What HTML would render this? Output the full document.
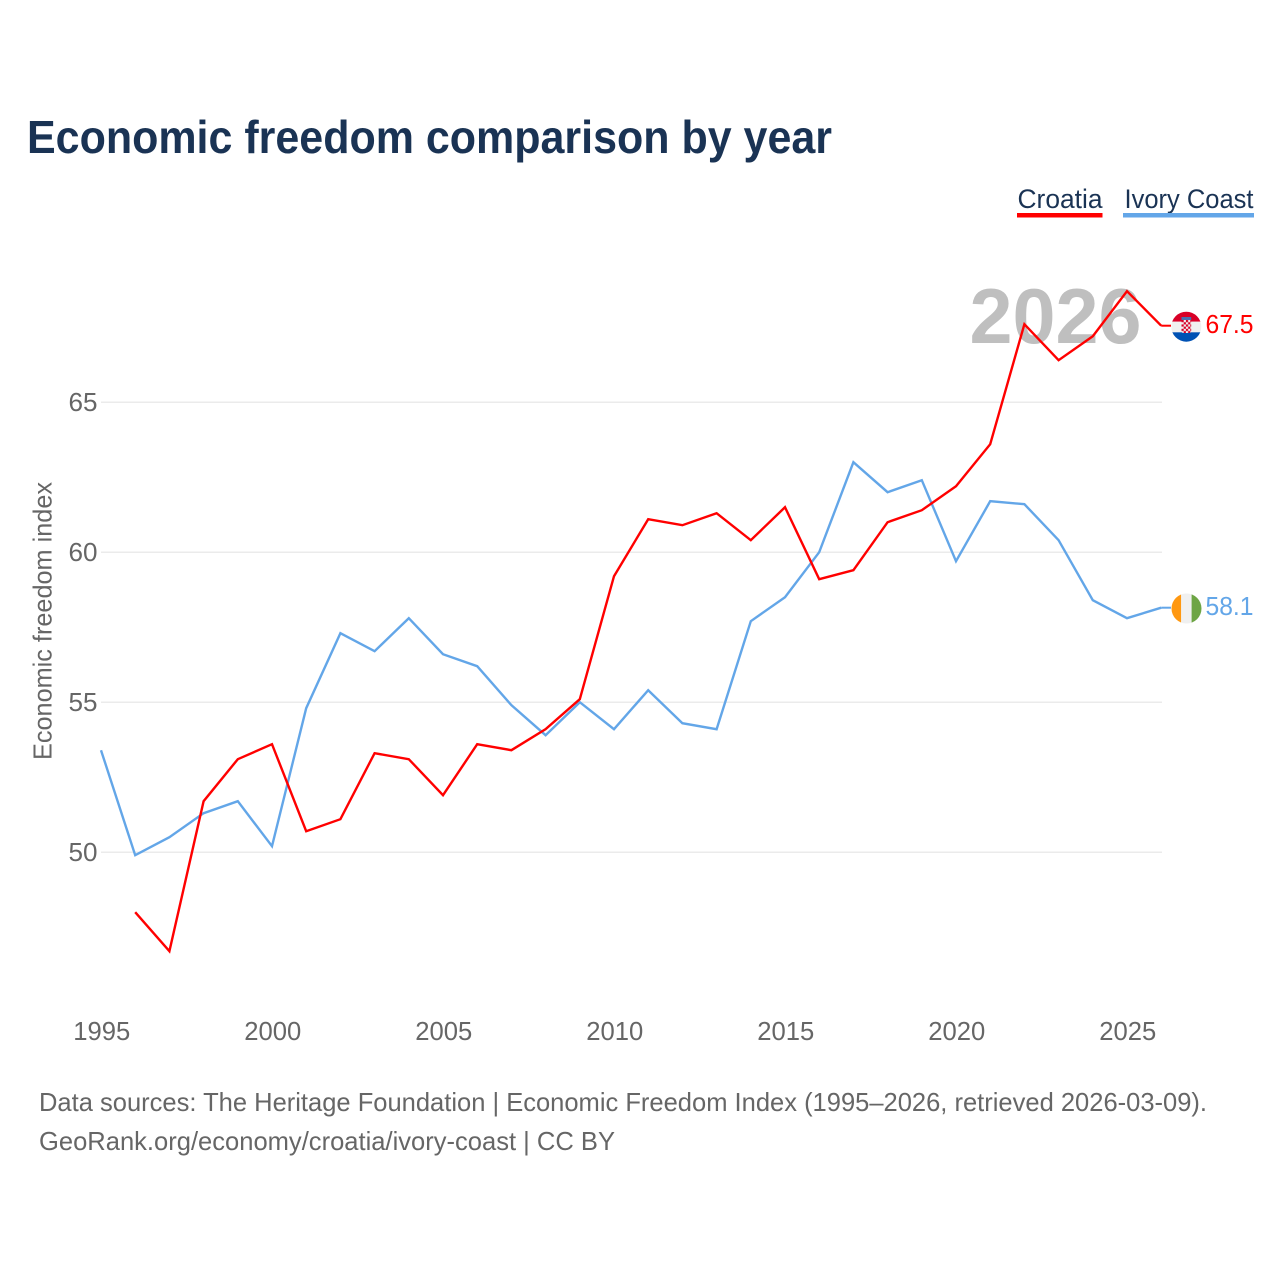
<!DOCTYPE html>
<html lang="en">
<head>
<meta charset="utf-8">
<title>Economic freedom comparison by year</title>
<style>
html,body{margin:0;padding:0;background:#fff;}
svg{display:block;font-family:"Liberation Sans",sans-serif;}
</style>
</head>
<body>
<svg id="chart" xmlns="http://www.w3.org/2000/svg" width="1280" height="1280" viewBox="0 0 1280 1280">
  <defs>
    <clipPath id="flag-clip-hr"><circle cx="1186.3" cy="326.7" r="15"/></clipPath>
    <clipPath id="flag-clip-ci"><circle cx="1186.5" cy="608.5" r="15"/></clipPath>
    <pattern id="hr-checker" x="1181.5" y="320" width="4.4" height="4.4" patternUnits="userSpaceOnUse">
      <rect width="4.4" height="4.4" fill="#f0f0f0"/>
      <rect width="2.2" height="2.2" fill="#d80027"/>
      <rect x="2.2" y="2.2" width="2.2" height="2.2" fill="#d80027"/>
    </pattern>
  </defs>
  <rect x="0" y="0" width="1280" height="1280" fill="#ffffff"/>
  <text x="27" y="153" font-size="46" font-weight="700" fill="#1a3354" textLength="805" lengthAdjust="spacingAndGlyphs">Economic freedom comparison by year</text>

  <g>
    <g>
      <text x="1017.5" y="208" font-size="27" fill="#1a3354" textLength="85" lengthAdjust="spacingAndGlyphs">Croatia</text>
      <rect x="1017" y="213" width="85.5" height="4.5" fill="#ff0000"/>
    </g>
    <g>
      <text x="1124.5" y="208" font-size="27" fill="#1a3354" textLength="129" lengthAdjust="spacingAndGlyphs">Ivory Coast</text>
      <rect x="1123" y="213" width="131" height="4.5" fill="#63a6e8"/>
    </g>
  </g>

  <text x="969.5" y="343" font-size="78" font-weight="700" fill="#bfbfbf" textLength="172" lengthAdjust="spacingAndGlyphs">2026</text>

  <g id="grid"></g>
  <g id="y-ticks"></g>
  <g id="x-ticks"></g>
  <text transform="translate(51.5 760) rotate(-90)" font-size="26" fill="#666666" textLength="278" lengthAdjust="spacingAndGlyphs">Economic freedom index</text>
  <g id="series"></g>

  <g clip-path="url(#flag-clip-hr)">
    <rect x="1171" y="311" width="31" height="10.7" fill="#d80027"/>
    <rect x="1171" y="321.7" width="31" height="10.6" fill="#f0f0f0"/>
    <rect x="1171" y="332.3" width="31" height="10.5" fill="#0052b4"/>
    <rect x="1181.5" y="317" width="9.7" height="3" fill="#4a6fb0"/>
    <rect x="1181.5" y="320" width="9.7" height="13" rx="2" fill="url(#hr-checker)"/>
  </g>
  <g clip-path="url(#flag-clip-ci)">
    <rect x="1171" y="593" width="10.2" height="31" fill="#ff9811"/>
    <rect x="1181.2" y="593" width="10.4" height="31" fill="#f0f0f0"/>
    <rect x="1191.6" y="593" width="11" height="31" fill="#6da544"/>
  </g>
  <g id="end-labels"></g>

  <text x="39" y="1111" font-size="26" fill="#666666" textLength="1168" lengthAdjust="spacingAndGlyphs">Data sources: The Heritage Foundation | Economic Freedom Index (1995–2026, retrieved 2026-03-09).</text>
  <text x="39" y="1150" font-size="26" fill="#666666" textLength="576" lengthAdjust="spacingAndGlyphs">GeoRank.org/economy/croatia/ivory-coast | CC BY</text>
</svg>

<script>
const years = [1995,1996,1997,1998,1999,2000,2001,2002,2003,2004,2005,2006,2007,2008,2009,2010,2011,2012,2013,2014,2015,2016,2017,2018,2019,2020,2021,2022,2023,2024,2025,2026];
const croatiaValues = [null,48.0,46.7,51.7,53.1,53.6,50.7,51.1,53.3,53.1,51.9,53.6,53.4,54.1,55.1,59.2,61.1,60.9,61.3,60.4,61.5,59.1,59.4,61.0,61.4,62.2,63.6,67.6,66.4,67.2,68.7,67.55];
const ivoryCoastValues = [53.4,49.9,50.5,51.3,51.7,50.2,54.8,57.3,56.7,57.8,56.6,56.2,54.9,53.9,55.0,54.1,55.4,54.3,54.1,57.7,58.5,60.0,63.0,62.0,62.4,59.7,61.7,61.6,60.4,58.4,57.8,58.15];
const yTickValues = [50,55,60,65];
const xTickValues = [1995,2000,2005,2010,2015,2020,2025];
const endLabels = ["67.5","58.1"];

const NS = 'http://www.w3.org/2000/svg';
function xScale(year){ return 101 + (year - 1995) * 34.2; }
function yScale(value){ return 852.2 - (value - 50) * 30; }
function make(tag, attrs, parent){
  const el = document.createElementNS(NS, tag);
  for (const k in attrs) el.setAttribute(k, attrs[k]);
  parent.appendChild(el);
  return el;
}

const gridGroup = document.getElementById('grid');
const yTickGroup = document.getElementById('y-ticks');
yTickValues.forEach(function(v){
  const line = make('line', {x1:101, x2:1162, y1:yScale(v), y2:yScale(v), stroke:'#ebebeb', 'stroke-width':1.5}, gridGroup);
  
  
  const label = make('text', {x:97.5, y:yScale(v) + 8.8, 'font-size':26, fill:'#666666', 'text-anchor':'end', textLength:29, lengthAdjust:'spacingAndGlyphs'}, yTickGroup);
  label.textContent = String(v);
  
  
});

const xTickGroup = document.getElementById('x-ticks');
xTickValues.forEach(function(y){
  const label = make('text', {x:xScale(y) + 0.8, y:1040, 'font-size':26, fill:'#666666', 'text-anchor':'middle', textLength:57, lengthAdjust:'spacingAndGlyphs'}, xTickGroup);
  label.textContent = String(y);
  
  
});

function linePoints(values){
  const pts = [];
  values.forEach(function(v, i){
    if (v !== null) pts.push(xScale(years[i]).toFixed(2) + ',' + yScale(v).toFixed(2));
  });
  return pts.join(' ');
}

const seriesGroup = document.getElementById('series');
const ivoryLine = make('polyline', {points:linePoints(ivoryCoastValues), fill:'none', stroke:'#63a6e8', 'stroke-width':2.4, 'stroke-linejoin':'miter'}, seriesGroup);


const croatiaLine = make('polyline', {points:linePoints(croatiaValues), fill:'none', stroke:'#ff0000', 'stroke-width':2.4, 'stroke-linejoin':'miter'}, seriesGroup);



const endGroup = document.getElementById('end-labels');
const croatiaLast = croatiaValues[croatiaValues.length - 1];
const ivoryLast = ivoryCoastValues[ivoryCoastValues.length - 1];
const croatiaConnector = make('line', {x1:xScale(2026), x2:1171, y1:yScale(croatiaLast), y2:yScale(croatiaLast), stroke:'#ff0000', 'stroke-width':2}, seriesGroup);


const ivoryConnector = make('line', {x1:xScale(2026), x2:1171, y1:yScale(ivoryLast), y2:yScale(ivoryLast), stroke:'#63a6e8', 'stroke-width':2}, seriesGroup);


const croatiaLabel = make('text', {x:1205.5, y:yScale(croatiaLast) + 7.2, 'font-size':25.5, fill:'#ff0000', textLength:48, lengthAdjust:'spacingAndGlyphs'}, endGroup);
croatiaLabel.textContent = endLabels[0];


const ivoryLabel = make('text', {x:1205.5, y:yScale(ivoryLast) + 7.2, 'font-size':25.5, fill:'#63a6e8', textLength:48, lengthAdjust:'spacingAndGlyphs'}, endGroup);
ivoryLabel.textContent = endLabels[1];


</script>
</body>
</html>
